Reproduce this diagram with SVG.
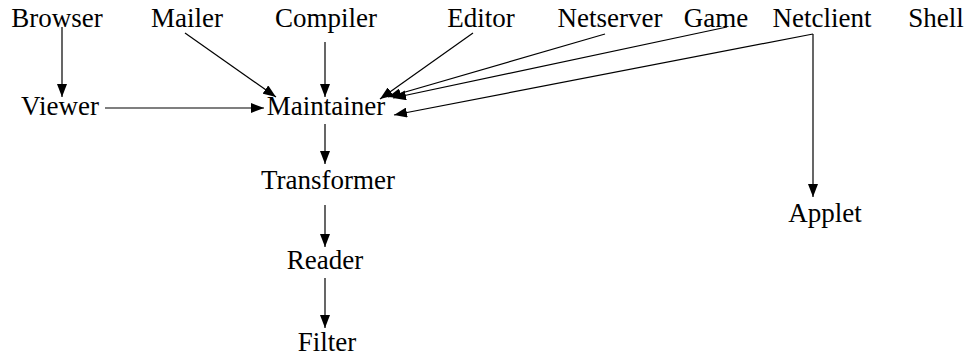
<svg xmlns="http://www.w3.org/2000/svg" width="969" height="358" viewBox="0 0 969 358">
<style>
text{font-family:"Liberation Serif","Times New Roman",serif;font-size:27px;fill:#000;text-anchor:middle}
.e line{stroke:#000;stroke-width:1.2;marker-end:url(#ah)}
</style>
<defs>
<marker id="ah" markerUnits="userSpaceOnUse" markerWidth="14" markerHeight="10" refX="13" refY="5" orient="auto">
<path d="M0,0 L13,5 L0,10 Z" fill="#000"/>
</marker>
</defs>
<rect width="969" height="358" fill="#fff"/>
<g class="e" id="connectors">
<line x1="62" y1="27" x2="62" y2="97"/>
<line x1="185" y1="33" x2="276" y2="97"/>
<line x1="325" y1="42" x2="325" y2="97"/>
<line x1="105" y1="108" x2="264" y2="108"/>
<line x1="473" y1="33" x2="380" y2="99"/>
<line x1="605" y1="34" x2="388" y2="97"/>
<line x1="727" y1="27" x2="393" y2="98"/>
<line x1="813" y1="34" x2="394" y2="115"/>
<line x1="813" y1="34" x2="813" y2="197"/>
<line x1="325" y1="124" x2="325" y2="164"/>
<line x1="325" y1="205" x2="325" y2="247"/>
<line x1="325" y1="278" x2="325" y2="328"/>
</g>
<g id="Browser"><text x="57" y="27">Browser</text></g>
<g id="Mailer"><text x="187" y="27">Mailer</text></g>
<g id="Compiler"><text x="326" y="27">Compiler</text></g>
<g id="Editor"><text x="481" y="27">Editor</text></g>
<g id="Netserver"><text x="610" y="27">Netserver</text></g>
<g id="Game"><text x="716" y="27">Game</text></g>
<g id="Netclient"><text x="822" y="27">Netclient</text></g>
<g id="Shell"><text x="936" y="27">Shell</text></g>
<g id="Viewer"><text x="60" y="115">Viewer</text></g>
<g id="Maintainer"><text x="326" y="115">Maintainer</text></g>
<g id="Transformer"><text x="328" y="189">Transformer</text></g>
<g id="Reader"><text x="325" y="269">Reader</text></g>
<g id="Filter"><text x="327" y="351">Filter</text></g>
<g id="Applet"><text x="825" y="222">Applet</text></g>
</svg>
